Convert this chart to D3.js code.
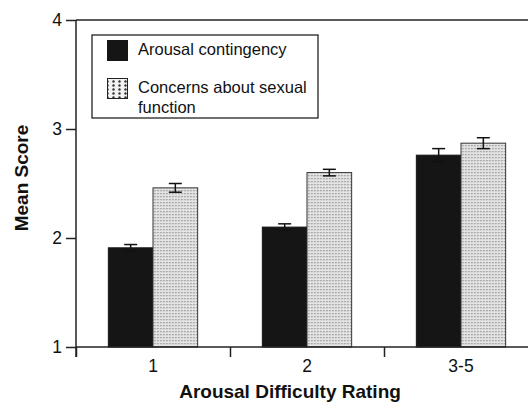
<!DOCTYPE html>
<html>
<head>
<meta charset="utf-8">
<script src="https://cdn.jsdelivr.net/npm/d3@7"></script>
<style>
    body { margin: 0; background: #fff; }
    text { font-family: "Liberation Sans", Arial, Helvetica, sans-serif; fill: #111; }
</style>
</head>
<body>
<div id="chart"></div>
<script>
// data
const categories = ["1", "2", "3-5"];
const seriesNames = ["Arousal contingency", "Concerns about sexual function"];
const arousalContingency = [1.91, 2.10, 2.76];
const arousalErr = [0.03, 0.03, 0.06];
const sexualConcerns = [2.46, 2.60, 2.87];
const concernsErr = [0.04, 0.03, 0.05];
const yTicks = [1, 2, 3, 4];

const w = 528;
const h = 404;
const padL = 76, padT = 20, baseY = 347, padR = 538;

const svg = d3.select("#chart")
    .append("svg")
    .attr("width", w)
    .attr("height", h);

// dotted fill
const defs = svg.append("defs");
const pat = defs.append("pattern")
    .attr("id", "dots")
    .attr("width", 3)
    .attr("height", 3)
    .attr("patternUnits", "userSpaceOnUse");
pat.append("rect").attr("width", 3).attr("height", 3).attr("fill", "#e4e4e4");
pat.append("rect").attr("x", 1).attr("y", 1).attr("width", 1.3).attr("height", 1.3).attr("fill", "#8a8a8a");

const patBig = defs.append("pattern")
    .attr("id", "dotsBig")
    .attr("width", 6)
    .attr("height", 4)
    .attr("patternUnits", "userSpaceOnUse")
    .attr("x", 2).attr("y", 1);
patBig.append("rect").attr("width", 6).attr("height", 4).attr("fill", "#f2f2f2");
patBig.append("circle").attr("cx", 1.5).attr("cy", 1.5).attr("r", 1.2).attr("fill", "#333");

const y = d3.scaleLinear().domain([1, 4]).range([baseY, padT]);

const x0 = d3.scaleBand()
    .domain(categories)
    .range([padL, padR])
    .paddingInner(0.42)
    .paddingOuter(0.21);

const x1 = d3.scaleBand()
    .domain(seriesNames)
    .range([0, x0.bandwidth()]);

const xEdges = d3.scaleLinear().domain([0, categories.length]).range([padL, padR]);

const rows = categories.map((c, i) => [
    { cat: c, key: seriesNames[0], v: arousalContingency[i], e: arousalErr[i] },
    { cat: c, key: seriesNames[1], v: sexualConcerns[i], e: concernsErr[i] }
]);

const fills = { [seriesNames[0]]: "#151515", [seriesNames[1]]: "url(#dots)" };
const strokes = { [seriesNames[0]]: "#151515", [seriesNames[1]]: "#333" };

const groups = svg.selectAll("g.grp")
    .data(rows)
    .enter()
    .append("g")
    .attr("class", "grp")
    .attr("transform", d => "translate(" + x0(d[0].cat) + ",0)");

groups.selectAll("rect")
    .data(d => d)
    .enter()
    .append("rect")
    .attr("x", d => x1(d.key))
    .attr("y", d => y(d.v))
    .attr("width", x1.bandwidth())
    .attr("height", d => y(1) - y(d.v))
    .attr("fill", d => fills[d.key])
    .attr("stroke", d => strokes[d.key])
    .attr("stroke-width", 1);

// error bars
const cap = 6.5;
const eb = groups.selectAll("g.err")
    .data(d => d)
    .enter()
    .append("g")
    .attr("class", "err")
    .attr("stroke", "#111")
    .attr("stroke-width", 1.5);

eb.append("line")
    .attr("x1", d => x1(d.key) + x1.bandwidth() / 2)
    .attr("x2", d => x1(d.key) + x1.bandwidth() / 2)
    .attr("y1", d => y(d.v - d.e))
    .attr("y2", d => y(d.v + d.e));
eb.append("line")
    .attr("x1", d => x1(d.key) + x1.bandwidth() / 2 - cap)
    .attr("x2", d => x1(d.key) + x1.bandwidth() / 2 + cap)
    .attr("y1", d => y(d.v + d.e))
    .attr("y2", d => y(d.v + d.e));
eb.append("line")
    .attr("x1", d => x1(d.key) + x1.bandwidth() / 2 - cap)
    .attr("x2", d => x1(d.key) + x1.bandwidth() / 2 + cap)
    .attr("y1", d => y(d.v - d.e))
    .attr("y2", d => y(d.v - d.e));

// axes
const yAxis = d3.axisLeft(y).tickValues(yTicks).tickSize(10).tickPadding(4).tickFormat(d3.format("d"));
const gy = svg.append("g")
    .attr("transform", "translate(" + padL + ",0)")
    .call(yAxis);
gy.select(".domain").remove();
gy.selectAll("line").attr("stroke", "#222").attr("stroke-width", 1.5);
gy.selectAll("text").style("font-size", "17.5px").attr("fill", "#111");

const xAxis = d3.axisBottom(xEdges).tickValues(d3.range(categories.length + 1)).tickSize(10).tickFormat("");
const gx = svg.append("g")
    .attr("transform", "translate(0," + baseY + ")")
    .call(xAxis);
gx.select(".domain").remove();
gx.selectAll("line").attr("stroke", "#222").attr("stroke-width", 1.5);

// axis lines + top frame
svg.append("line").attr("x1", padL).attr("x2", padL).attr("y1", padT).attr("y2", baseY + 10)
    .attr("stroke", "#222").attr("stroke-width", 1.5);
svg.append("line").attr("x1", padL).attr("x2", padR).attr("y1", baseY).attr("y2", baseY)
    .attr("stroke", "#222").attr("stroke-width", 1.5);
svg.append("line").attr("x1", padL).attr("x2", padR).attr("y1", padT).attr("y2", padT)
    .attr("stroke", "#222").attr("stroke-width", 1.5);

// category labels
svg.selectAll("text.cat")
    .data(categories)
    .enter()
    .append("text")
    .attr("class", "cat")
    .attr("x", d => x0(d) + x0.bandwidth() / 2)
    .attr("y", 372)
    .attr("text-anchor", "middle")
    .style("font-size", "17.5px")
    .text(d => d);

// axis titles
svg.append("text")
    .attr("x", 290)
    .attr("y", 398)
    .attr("text-anchor", "middle")
    .style("font-size", "19px")
    .style("font-weight", "bold")
    .text("Arousal Difficulty Rating");

svg.append("text")
    .attr("transform", "translate(28,178) rotate(-90)")
    .attr("text-anchor", "middle")
    .style("font-size", "19px")
    .style("font-weight", "bold")
    .text("Mean Score");

// legend
const legend = svg.append("g").attr("transform", "translate(92,35)");
legend.append("rect")
    .attr("width", 226)
    .attr("height", 83)
    .attr("fill", "#fff")
    .attr("stroke", "#111")
    .attr("stroke-width", 1.2);

legend.append("rect")
    .attr("x", 15).attr("y", 5).attr("width", 21).attr("height", 21)
    .attr("fill", "#151515");
legend.append("rect")
    .attr("x", 15.5).attr("y", 43.5).attr("width", 20).attr("height", 20)
    .attr("fill", "url(#dotsBig)")
    .attr("stroke", "#222").attr("stroke-width", 1);

legend.append("text").attr("x", 46).attr("y", 20).style("font-size", "16.5px").text(seriesNames[0]);
legend.append("text").attr("x", 46).attr("y", 58).style("font-size", "16.5px").text("Concerns about sexual");
legend.append("text").attr("x", 46).attr("y", 78).style("font-size", "16.5px").text("function");
</script>
</body>
</html>
